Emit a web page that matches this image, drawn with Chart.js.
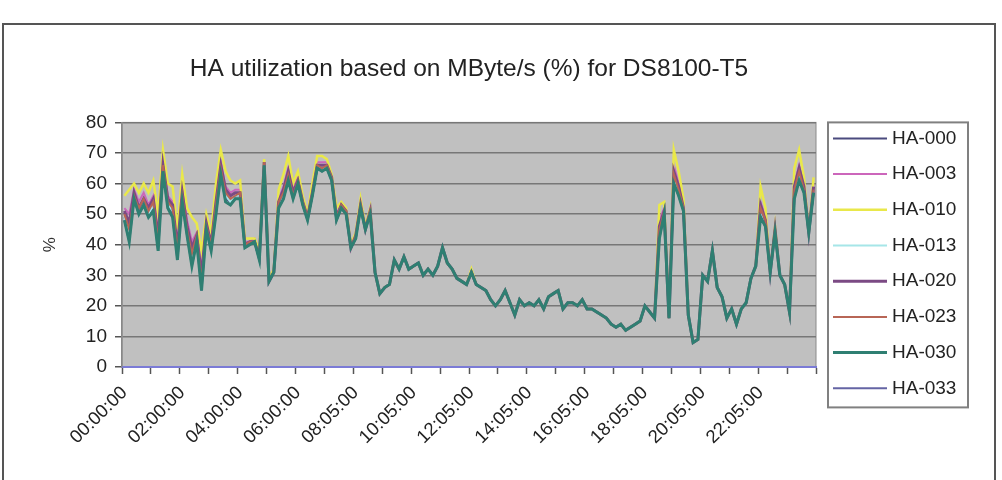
<!DOCTYPE html>
<html>
<head>
<meta charset="utf-8">
<title>HA utilization</title>
<script src="https://cdn.jsdelivr.net/npm/chart.js@4.4.1/dist/chart.umd.min.js"></script>
<style>
  html, body { margin: 0; padding: 0; background: #fff; }
  #wrap { width: 1002px; height: 480px; position: relative; }
</style>
</head>
<body>
<div id="wrap"><canvas id="graficoHA"></canvas></div>
<script>
// series, in legend order
const seriesNames = ['HA-000', 'HA-003', 'HA-010', 'HA-013', 'HA-020', 'HA-023', 'HA-030', 'HA-033'];
const seriesColors = ['#4b4b7e', '#cc66bb', '#e9e84a', '#a6e6e8', '#7b4a84', '#b86656', '#2f7f72', '#6464a4'];
const seriesWidths = [2, 2, 2.5, 2, 3, 2, 3, 2];
// HA-030 is drawn on top, as in the picture
const drawOrder = [7, 6, 5, 4, 3, 2, 0, 1];

// x axis: a label every 12 samples (2 h), a tick mark every 6 (1 h)
const tickLabels = ['00:00:00', '02:00:00', '04:00:00', '06:00:00', '08:05:00', '10:05:00',
                    '12:05:00', '14:05:00', '16:05:00', '18:05:00', '20:05:00', '22:05:00'];

// 10 minute samples, %
const ha000 = [49,43,56,51,54,50,52,39,65,53,50,36,
               55,44,35,42,26,46,39,51,64,55,54,56,
               56,39,40,41,35,66,28,31,53,56,62,56,
               60,53,48,56,65,65,65,61,48,52,50,39,
               42,52,45,50,31,24,26,27,35,32,36,32,
               33,34,30,32,30,33,39,34,32,29,28,27,
               31,27,26,25,22,20,22,25,21,17,22,20,
               21,20,22,19,23,24,25,19,21,21,20,22,
               19,19,18,17,16,14,13,14,12,13,14,15,
               20,18,16,43,50,16,61,57,51,17,8,9,
               30,28,38,26,23,16,19,14,19,21,29,33,
               50,47,31,44,30,27,18,56,62,57,44,57];
const ha003 = [52,50,58,54,57,53,56,44,68,56,54,40,
               59,48,41,44,32,48,41,55,67,59,57,58,
               58,41,41,42,37,67,29,32,55,59,65,58,
               62,55,49,58,67,67,67,62,50,53,51,40,
               43,54,46,51,31,24,26,27,35,32,36,32,
               33,34,30,32,30,33,39,34,32,29,28,27,
               31,27,26,25,22,20,22,25,21,17,22,20,
               21,20,22,19,23,24,25,19,21,21,20,22,
               19,19,18,17,16,14,13,14,12,13,14,15,
               20,18,16,48,52,16,66,60,53,17,8,9,
               30,28,38,26,23,16,19,14,19,21,29,33,
               54,49,31,45,30,27,18,60,66,60,44,60];
const ha010 = [56,58,60,57,60,57,61,50,71,60,59,45,
               63,52,49,47,38,50,44,60,71,64,61,60,
               61,42,42,42,38,68,29,32,58,63,69,60,
               64,56,50,60,69,69,68,63,52,54,52,40,
               44,55,46,52,31,24,26,27,35,32,36,32,
               33,34,30,32,30,33,39,34,32,29,28,27,
               32,27,26,25,22,20,22,25,21,17,22,20,
               21,20,22,19,23,24,25,19,21,21,20,22,
               19,19,18,17,16,14,13,14,12,13,14,15,
               20,18,16,53,54,16,71,64,55,17,8,9,
               30,28,38,26,23,16,19,14,19,21,29,33,
               59,52,31,46,30,27,18,65,71,62,44,62];
const ha013 = [49,44,56,51,54,50,53,40,65,53,51,37,
               55,44,35,42,27,46,39,52,64,56,54,56,
               56,39,40,41,35,66,28,31,53,56,62,56,
               61,53,48,57,66,65,65,61,49,52,50,39,
               42,52,45,50,31,24,26,27,35,32,36,32,
               33,34,30,32,30,33,39,34,32,29,28,27,
               31,27,26,25,22,20,22,25,21,17,22,20,
               21,20,22,19,23,24,25,19,21,21,20,22,
               19,19,18,17,16,14,13,14,12,13,14,15,
               20,18,16,44,51,16,62,57,52,17,8,9,
               30,28,38,26,23,16,19,14,19,21,29,33,
               51,47,31,44,30,27,18,57,63,58,44,58];
const ha020 = [51,47,57,52,55,52,55,42,66,55,53,39,
               57,46,39,43,30,47,40,54,66,58,56,57,
               57,40,41,41,36,67,28,31,54,58,64,57,
               61,54,49,57,66,66,66,62,49,53,51,39,
               43,53,45,51,31,24,26,27,35,32,36,32,
               33,34,30,32,30,33,39,34,32,29,28,27,
               31,27,26,25,22,20,22,25,21,17,22,20,
               21,20,22,19,23,24,25,19,21,21,20,22,
               19,19,18,17,16,14,13,14,12,13,14,15,
               20,18,16,46,51,16,64,59,52,17,8,9,
               30,28,38,26,23,16,19,14,19,21,29,33,
               53,48,31,45,30,27,18,59,65,59,44,59];
const ha023 = [50,45,56,52,55,51,54,41,66,54,52,38,
               56,45,37,43,28,46,40,53,65,57,55,56,
               57,40,41,41,36,67,28,31,54,57,63,56,
               61,54,49,57,66,65,66,62,49,53,51,39,
               43,53,45,51,31,24,26,27,35,32,36,32,
               33,34,30,32,30,33,39,34,32,29,28,27,
               31,27,26,25,22,20,22,25,21,17,22,20,
               21,20,22,19,23,24,25,19,21,21,20,22,
               19,19,18,17,16,14,13,14,12,13,14,15,
               20,18,16,45,51,16,63,58,52,17,8,9,
               30,28,38,26,23,16,19,14,19,21,29,33,
               52,48,31,45,30,27,18,58,64,58,44,58];
const ha030 = [48,41,55,50,53,49,51,38,64,52,49,35,
               54,43,33,41,25,45,38,50,63,54,53,55,
               55,39,40,41,35,66,28,31,52,55,61,55,
               60,53,48,56,65,64,65,61,48,52,50,39,
               42,52,45,50,31,24,26,27,35,32,36,32,
               33,34,30,32,30,33,39,34,32,29,28,27,
               31,27,26,25,22,20,22,25,21,17,22,20,
               21,20,22,19,23,24,25,19,21,21,20,22,
               19,19,18,17,16,14,13,14,12,13,14,15,
               20,18,16,42,50,16,60,56,51,17,8,9,
               30,28,38,26,23,16,19,14,19,21,29,33,
               49,46,31,44,30,27,18,55,61,57,44,57];
const ha033 = [48,41,55,50,53,49,51,38,64,52,49,35,
               54,43,33,41,25,45,38,50,63,54,53,55,
               55,39,40,41,35,66,28,31,52,55,61,55,
               60,53,48,56,65,64,65,61,48,52,50,39,
               42,52,45,50,31,24,26,27,35,32,36,32,
               33,34,30,32,30,33,39,34,32,29,28,27,
               31,27,26,25,22,20,22,25,21,17,22,20,
               21,20,22,19,23,24,25,19,21,21,20,22,
               19,19,18,17,16,14,13,14,12,13,14,15,
               20,18,16,42,50,16,60,56,51,17,8,9,
               30,28,38,26,23,16,19,14,19,21,29,33,
               49,46,31,44,30,27,18,55,61,57,44,57];
const seriesData = [ha000, ha003, ha010, ha013, ha020, ha023, ha030, ha033];

// sample times (clock is 5 min late from 08:00 on)
const categorias = ha030.map((_, i) => {
    const min = i * 10 + (i >= 48 ? 5 : 0);
    const hh = String(Math.floor(min / 60)).padStart(2, '0');
    const mm = String(min % 60).padStart(2, '0');
    return hh + ':' + mm + ':00';
});

Chart.defaults.font.family = '"Liberation Sans", Arial, sans-serif';
Chart.defaults.color = '#222';

// gray plot area, outer frame and the boxed legend on the right
const moldura = {
    id: 'moldura',
    beforeDraw(chart) {
        const { ctx, chartArea: a, width, height } = chart;
        ctx.save();
        ctx.strokeStyle = '#555';
        ctx.lineWidth = 2;
        ctx.strokeRect(3, 24, width - 10, height);
        ctx.fillStyle = '#c0c0c0';
        ctx.fillRect(a.left, a.top, a.right - a.left, a.bottom - a.top);
        ctx.strokeStyle = '#8a8a8a';
        ctx.lineWidth = 1;
        ctx.strokeRect(a.left, a.top, a.right - a.left, a.bottom - a.top);
        ctx.restore();
    },
    afterDraw(chart) {
        const { ctx, chartArea: a } = chart;
        const left = a.right + 12, top = a.top, w = 140, h = 285;
        const passo = 35.7;
        ctx.save();
        ctx.fillStyle = '#fff';
        ctx.fillRect(left, top, w, h);
        ctx.strokeStyle = '#808080';
        ctx.lineWidth = 2;
        ctx.strokeRect(left, top, w, h);
        ctx.font = '19px "Liberation Sans", Arial, sans-serif';
        ctx.textBaseline = 'middle';
        seriesNames.forEach((nome, i) => {
            const y = top + 16 + i * passo;
            ctx.strokeStyle = seriesColors[i];
            ctx.lineWidth = seriesWidths[i];
            ctx.beginPath();
            ctx.moveTo(left + 5, y);
            ctx.lineTo(left + 59, y);
            ctx.stroke();
            ctx.fillStyle = '#222';
            ctx.fillText(nome, left + 64, y);
        });
        ctx.restore();
    }
};

const ctxHA = document.getElementById('graficoHA').getContext('2d');
new Chart(ctxHA, {
    type: 'line',
    data: {
        labels: categorias,
        datasets: seriesNames.map((nome, i) => ({
            label: nome,
            data: seriesData[i],
            borderColor: seriesColors[i],
            backgroundColor: seriesColors[i],
            borderWidth: seriesWidths[i],
            pointRadius: 0,
            tension: 0,
            order: drawOrder[i]
        }))
    },
    options: {
        responsive: true,
        maintainAspectRatio: false,
        animation: false,
        layout: { padding: { left: 0, right: 186, top: 0, bottom: 0 } },
        plugins: {
            legend: { display: false },
            tooltip: { enabled: false },
            title: {
                display: true,
                fullSize: false,
                text: 'HA utilization based on MByte/s (%) for DS8100-T5',
                color: '#222',
                font: { size: 24.5, weight: 'normal' },
                padding: { top: 55, bottom: 38 }
            }
        },
        scales: {
            x: {
                offset: true,
                grid: {
                    offset: true,
                    drawOnChartArea: false,
                    tickLength: 7,
                    tickWidth: 1.5,
                    tickColor: c => (c.index === undefined || c.index % 6 === 0) ? '#555' : 'rgba(0,0,0,0)'
                },
                border: { color: '#7b7bd6', width: 2 },
                ticks: {
                    autoSkip: false,
                    minRotation: 45,
                    maxRotation: 45,
                    padding: 8,
                    color: '#222',
                    font: { size: 18.5 },
                    callback: (v, i) => i % 12 === 0 ? tickLabels[i / 12] : ''
                },
                afterFit: s => { s.height = 113; }
            },
            y: {
                min: 0,
                max: 80,
                ticks: { stepSize: 10, padding: 8, color: '#222', font: { size: 19 } },
                grid: { color: '#777', lineWidth: 1.5, tickLength: 7, tickColor: '#555' },
                border: { color: '#888', width: 1.5 },
                title: { display: true, text: '%', color: '#333', font: { size: 17 }, padding: { top: 40, bottom: 0 } },
                afterFit: s => { s.width = 122; }
            }
        }
    },
    plugins: [moldura]
});
</script>
</body>
</html>
